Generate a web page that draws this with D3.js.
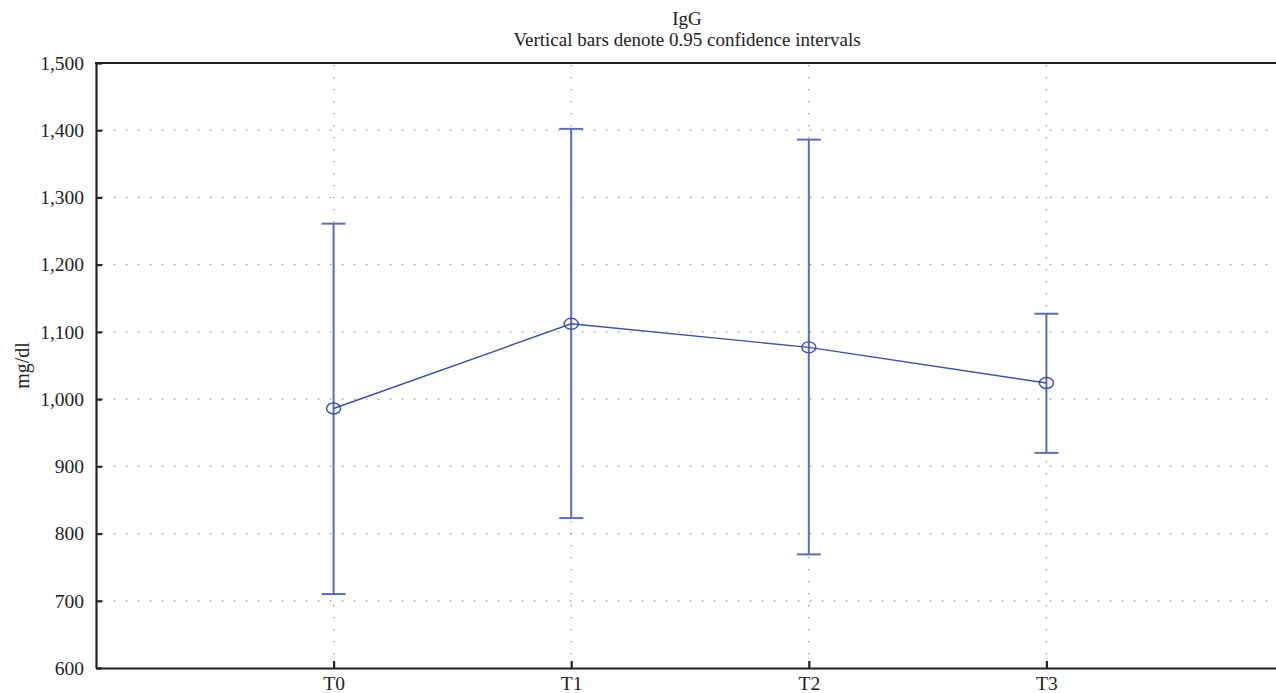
<!DOCTYPE html>
<html>
<head>
<meta charset="utf-8">
<script src="https://cdn.jsdelivr.net/npm/d3@7"></script>
<style>
  body { margin: 0; background: #fff; }
  text { font-family: "Liberation Serif", "DejaVu Serif", serif; fill: #222; }
</style>
</head>
<body>
<script>
var times = ['T0', 'T1', 'T2', 'T3'];
var means = [986, 1112, 1077, 1024];
var lower = [710, 823, 769, 920];
var upper = [1261, 1402, 1386, 1127];
var yTicks = [600, 700, 800, 900, 1000, 1100, 1200, 1300, 1400, 1500];

var w = 1276,
    h = 693;
var m = { left: 96, top: 63, bottom: 25 };

var svg = d3.select('body').append('svg')
  .attr('width', w)
  .attr('height', h);

var x = d3.scalePoint()
  .domain([''].concat(times, [' ']))
  .range([m.left, m.left + 5 * 237.6]);

var y = d3.scaleLinear()
  .domain([600, 1500])
  .range([h - m.bottom, m.top]);

// dotted grid
var grid = svg.append('g')
  .attr('stroke', '#888')
  .attr('stroke-width', 1.3)
  .attr('stroke-dasharray', '1.3,10.7');

grid.selectAll('.hgrid')
  .data(yTicks.slice(1, -1))
  .enter()
  .append('line')
    .attr('x1', m.left + 6)
    .attr('x2', w)
    .attr('y1', function(d) { return y(d); })
    .attr('y2', function(d) { return y(d); });

grid.selectAll('.vgrid')
  .data(times)
  .enter()
  .append('line')
    .attr('x1', function(d) { return x(d); })
    .attr('x2', function(d) { return x(d); })
    .attr('y1', m.top + 2)
    .attr('y2', h - m.bottom - 7);

// axes
var yAxis = svg.append('g')
  .attr('transform', 'translate(' + m.left + ',0)')
  .call(d3.axisLeft(y).tickValues(yTicks).tickSizeInner(-6).tickSizeOuter(0)
    .tickPadding(12).tickFormat(d3.format(',')));
yAxis.select('.domain').attr('stroke', '#222').attr('stroke-width', 2.2);
yAxis.selectAll('.tick line').attr('stroke', '#222').attr('stroke-width', 2.2);
yAxis.selectAll('text').style('font-size', '19.5px').attr('fill', '#222');

var xAxis = svg.append('g')
  .attr('transform', 'translate(0,' + (h - m.bottom) + ')')
  .call(d3.axisBottom(x).tickValues(times).tickSizeInner(-7).tickSizeOuter(0).tickPadding(8));
xAxis.select('.domain').attr('stroke', '#222').attr('stroke-width', 2.2);
xAxis.selectAll('.tick line').attr('stroke', '#222').attr('stroke-width', 2.2);
xAxis.selectAll('text').style('font-size', '19.5px').attr('fill', '#222');

// top frame line
svg.append('line')
  .attr('x1', m.left - 1)
  .attr('x2', w)
  .attr('y1', m.top)
  .attr('y2', m.top)
  .attr('stroke', '#222')
  .attr('stroke-width', 2.2);

// error bars
var bars = svg.append('g')
  .attr('stroke', '#5a6db6')
  .attr('stroke-width', 2);

bars.selectAll('.whisker')
  .data(times)
  .enter()
  .append('line')
    .attr('x1', function(d) { return x(d); })
    .attr('x2', function(d) { return x(d); })
    .attr('y1', function(d, i) { return y(lower[i]); })
    .attr('y2', function(d, i) { return y(upper[i]); });

bars.selectAll('.capTop')
  .data(times)
  .enter()
  .append('line')
    .attr('x1', function(d) { return x(d) - 12; })
    .attr('x2', function(d) { return x(d) + 12; })
    .attr('y1', function(d, i) { return y(upper[i]); })
    .attr('y2', function(d, i) { return y(upper[i]); });

bars.selectAll('.capBottom')
  .data(times)
  .enter()
  .append('line')
    .attr('x1', function(d) { return x(d) - 12; })
    .attr('x2', function(d) { return x(d) + 12; })
    .attr('y1', function(d, i) { return y(lower[i]); })
    .attr('y2', function(d, i) { return y(lower[i]); });

// mean line + markers
var line = d3.line()
  .x(function(d, i) { return x(times[i]); })
  .y(function(d) { return y(d); });

svg.append('path')
  .datum(means)
  .attr('d', line)
  .attr('fill', 'none')
  .attr('stroke', '#3c50aa')
  .attr('stroke-width', 1.4);

svg.selectAll('.mean')
  .data(means)
  .enter()
  .append('ellipse')
    .attr('cx', function(d, i) { return x(times[i]); })
    .attr('cy', function(d) { return y(d); })
    .attr('rx', 7)
    .attr('ry', 5.5)
    .attr('fill', 'none')
    .attr('stroke', '#3c50aa')
    .attr('stroke-width', 1.4);

// titles
svg.append('text')
  .attr('x', 687)
  .attr('y', 25)
  .attr('text-anchor', 'middle')
  .style('font-size', '19px')
  .text('IgG');

svg.append('text')
  .attr('x', 687)
  .attr('y', 46)
  .attr('text-anchor', 'middle')
  .style('font-size', '19px')
  .text('Vertical bars denote 0.95 confidence intervals');

svg.append('text')
  .attr('transform', 'translate(29,' + ((m.top + h - m.bottom) / 2) + ') rotate(-90)')
  .attr('text-anchor', 'middle')
  .style('font-size', '20px')
  .text('mg/dl');
</script>
</body>
</html>
